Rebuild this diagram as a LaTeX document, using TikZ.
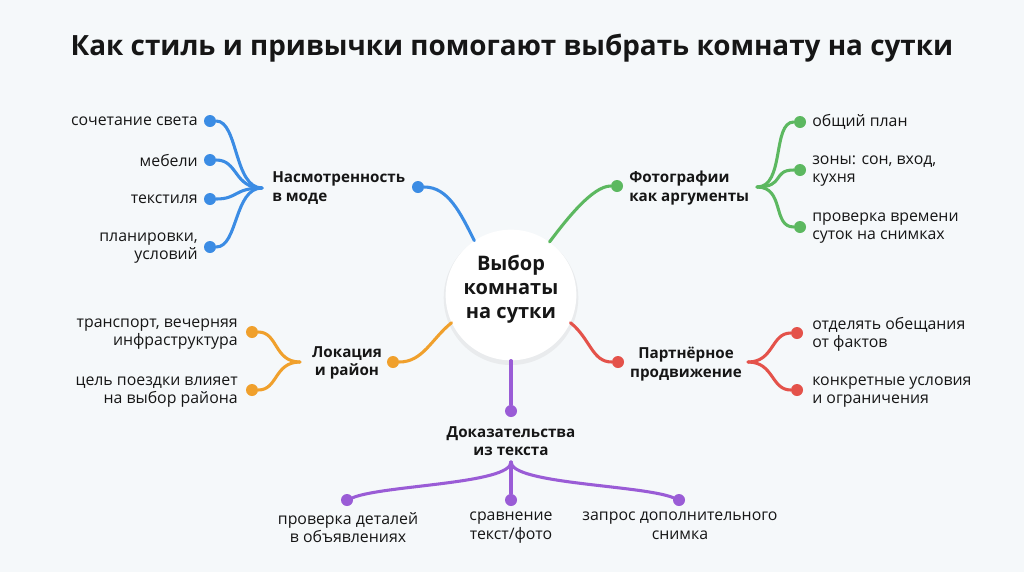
\documentclass[tikz,border=0pt]{standalone}
\usepackage{fontspec}
\setmainfont{Open Sans}
\usetikzlibrary{shadows}

\begin{document}
\begin{tikzpicture}[x=0.75pt,y=-0.75pt,
  bullet/.style={circle, inner sep=0pt, minimum size=9pt, fill=#1},
  link/.style={#1, line width=2.3pt, line cap=round},
  leaf/.style={font=\fontsize{11.9}{13.7}\selectfont, text=INK, inner sep=0pt, align=#1},
  branch/.style={font=\fontsize{11.4}{13.8}\selectfont\bfseries, text=INK, inner sep=0pt, align=#1}]

\definecolor{PAPER}{RGB}{245,248,250}
\definecolor{INK}{RGB}{22,22,22}
\definecolor{BLUE}{RGB}{59,140,228}
\definecolor{GREEN}{RGB}{92,184,96}
\definecolor{ORANGE}{RGB}{240,160,44}
\definecolor{RED}{RGB}{228,82,74}
\definecolor{PURPLE}{RGB}{154,92,214}

\fill[PAPER] (0,0) rectangle (1024,572);
\useasboundingbox (0,0) rectangle (1024,572);

\node[font=\fontsize{20.9}{25}\selectfont\bfseries, text=INK, inner sep=0pt] (title) at (512,48)
	{Как стиль и привычки помогают выбрать комнату на сутки};

% centre
\node[circle, fill=white, inner sep=0pt, minimum size=98pt,
	drop shadow={opacity=0.10, shadow xshift=0pt, shadow yshift=-2pt, shadow scale=1.03}] (hub) at (511,295) {};
\node[align=center, inner sep=0pt, font=\fontsize{15}{18.2}\selectfont\bfseries, text=INK] (hubtext) at (511,289)
	{Выбор\\комнаты\\на сутки};

% blue branch
\node[bullet=BLUE] (bB) at (418,187) {};
\draw[link=BLUE] (bB) .. controls +(30,0) and +(-14,-28) .. (hub.124);
\node[branch=left, anchor=west] (lB) at (272,188) {Насмотренность\\в моде};
\coordinate (fB) at (262,188);
\node[bullet=BLUE] (b1) at (210,121) {};
\node[bullet=BLUE] (b2) at (210,160) {};
\node[bullet=BLUE] (b3) at (210,199) {};
\node[bullet=BLUE] (b4) at (210,247) {};
\foreach \n in {b1,b2,b3,b4}
	\draw[link=BLUE] (fB) .. controls +(-28,0) and +(28,0) .. (\n);
\node[leaf=right, anchor=east] (t1) at (198,121) {сочетание света};
\node[leaf=right, anchor=east] (t2) at (198,160) {мебели};
\node[leaf=right, anchor=east] (t3) at (198,199) {текстиля};
\node[leaf=right, anchor=east] (t4) at (198,248) {планировки,\\условий};

% green branch
\node[bullet=GREEN] (gB) at (617,186) {};
\draw[link=GREEN] (hub.54) .. controls +(18,-24) and +(-24,0) .. (gB);
\node[branch=left, anchor=west] (lG) at (629,188) {Фотографии\\как аргументы};
\coordinate (fG) at (757,187);
\node[bullet=GREEN] (g1) at (800,122) {};
\node[bullet=GREEN] (g2) at (800,170) {};
\node[bullet=GREEN] (g3) at (800,227) {};
\foreach \n in {g1,g2,g3}
	\draw[link=GREEN] (fG) .. controls +(28,0) and +(-28,0) .. (\n);
\node[leaf=left, anchor=west] (s1) at (812,122) {общий план};
\node[leaf=left, anchor=west] (s2) at (812,171) {зоны: сон, вход,\\кухня};
\node[leaf=left, anchor=west] (s3) at (812,228) {проверка времени\\суток на снимках};

% orange branch
\node[bullet=ORANGE] (oB) at (393,362) {};
\draw[link=ORANGE] (oB) .. controls +(30,0) and +(-20,16) .. (hub.205);
\node[branch=center] (lO) at (347,363) {Локация\\и район};
\coordinate (fO) at (300,362);
\node[bullet=ORANGE] (o1) at (252,332) {};
\node[bullet=ORANGE] (o2) at (252,390) {};
\foreach \n in {o1,o2}
	\draw[link=ORANGE] (fO) .. controls +(-26,0) and +(26,0) .. (\n);
\node[leaf=right, anchor=east] (u1) at (238,334) {транспорт, вечерняя\\инфраструктура};
\node[leaf=right, anchor=east] (u2) at (238,392) {цель поездки влияет\\на выбор района};

% red branch
\node[bullet=RED] (rB) at (618,362) {};
\draw[link=RED] (hub.335) .. controls +(20,16) and +(-26,0) .. (rB);
\node[branch=center] (lR) at (686,364) {Партнёрное\\продвижение};
\coordinate (fR) at (748,362);
\node[bullet=RED] (r1) at (797,333) {};
\node[bullet=RED] (r2) at (797,390) {};
\foreach \n in {r1,r2}
	\draw[link=RED] (fR) .. controls +(26,0) and +(-26,0) .. (\n);
\node[leaf=left, anchor=west] (v1) at (812,334) {отделять обещания\\от фактов};
\node[leaf=left, anchor=west] (v2) at (812,392) {конкретные условия\\и ограничения};

% purple branch
\node[bullet=PURPLE] (pB) at (511,411) {};
\draw[link=PURPLE] (hub.south) -- (pB);
\node[branch=center] (lP) at (511,441) {Доказательства\\из текста};
\coordinate (fP) at (511,462);
\node[bullet=PURPLE] (p1) at (347,500) {};
\node[bullet=PURPLE] (p2) at (511,500) {};
\node[bullet=PURPLE] (p3) at (679,500) {};
\draw[link=PURPLE] (fP) .. controls +(0,22) and +(37,-15) .. (p1);
\draw[link=PURPLE] (fP) -- (p2);
\draw[link=PURPLE] (fP) .. controls +(0,22) and +(-37,-15) .. (p3);
\node[leaf=center, anchor=north] (w1) at (348,512) {проверка деталей\\в объявлениях};
\node[leaf=center, anchor=north] (w2) at (511,512) {сравнение\\текст/фото};
\node[leaf=center, anchor=north] (w3) at (680,512) {запрос дополнительного\\снимка};
\end{tikzpicture}
\end{document}
